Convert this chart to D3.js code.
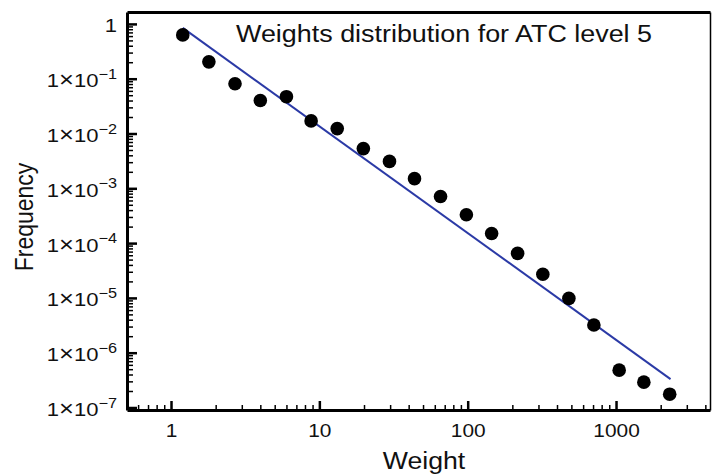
<!DOCTYPE html>
<meta charset="utf-8">
<style>
body { margin: 0; background: #fff; }
svg { display: block; }
text { font-family: "Liberation Sans", Arial, Helvetica, sans-serif; fill: #111; }
.axis path, .axis line { stroke: #000; fill: none; }
</style>
<body>
<script src="https://cdn.jsdelivr.net/npm/d3@7"></script>
<script>

var weights = [1.2, 1.8, 2.7, 4.0, 6.0, 8.8, 13.2, 19.8, 29.7, 43.8, 65.6, 98, 145, 217, 321, 481, 709, 1050, 1540, 2300];
var freqs = [0.63, 0.203, 0.081, 0.040, 0.047, 0.017, 0.0123, 0.0053, 0.0031, 0.0015, 0.00071, 0.00033, 0.00015,
             6.5e-5, 2.7e-5, 9.8e-6, 3.2e-6, 4.8e-7, 2.9e-7, 1.75e-7];

// fitted power-law line (end points)
var fitX = [1.2, 2330];
var fitY = [0.845, 3.3e-7];

var xTicks = [1, 10, 100, 1000];
var yTicks = [1e-7, 1e-6, 1e-5, 1e-4, 1e-3, 1e-2, 1e-1, 1];

var xDomain = [0.505, 4300];
var yDomain = [9e-8, 1.65];

var W = 712, H = 476;
var plot = {left: 127, right: 710, top: 12, bottom: 410};
var sx = 1.16; // glyphs in the picture are a bit wide

var svg = d3.select("body").append("svg")
  .attr("width", W)
  .attr("height", H);

var x = d3.scaleLog().domain(xDomain).range([plot.left, plot.right]);
var y = d3.scaleLog().domain(yDomain).range([plot.bottom, plot.top]);

function minors(lo, hi) {
  var out = [];
  for (var e = Math.floor(Math.log10(lo)); e <= Math.ceil(Math.log10(hi)); e++) {
    for (var k = 2; k <= 9; k++) {
      var v = k * Math.pow(10, e);
      if (v > lo && v < hi) out.push(v);
    }
  }
  return out;
}

// minor ticks
svg.append("g")
  .attr("class", "axis")
  .attr("transform", "translate(" + plot.left + ",0)")
  .call(d3.axisLeft(y).tickValues(minors(yDomain[0], yDomain[1])).tickSize(-6).tickFormat(""))
  .call(function(g) { g.select(".domain").remove(); g.selectAll("line").attr("stroke-width", 1.5); });

svg.append("g")
  .attr("class", "axis")
  .attr("transform", "translate(0," + plot.bottom + ")")
  .call(d3.axisBottom(x).tickValues(minors(xDomain[0], xDomain[1])).tickSize(-5).tickFormat(""))
  .call(function(g) { g.select(".domain").remove(); g.selectAll("line").attr("stroke-width", 1.5); });

// frame: top and right
svg.append("g")
  .attr("class", "axis")
  .attr("transform", "translate(0," + plot.top + ")")
  .call(d3.axisTop(x).tickValues([]).tickSizeOuter(0))
  .select(".domain").attr("stroke-width", 3);

svg.append("g")
  .attr("class", "axis")
  .attr("transform", "translate(" + plot.right + ",0)")
  .call(d3.axisRight(y).tickValues([]).tickSizeOuter(0))
  .select(".domain").attr("stroke", "#666").attr("stroke-width", 1.5);

// major y axis
var yAxis = svg.append("g")
  .attr("class", "axis")
  .attr("transform", "translate(" + plot.left + ",0)")
  .call(d3.axisLeft(y).tickValues(yTicks).tickSizeInner(-10).tickSizeOuter(0).tickPadding(10));

yAxis.select(".domain").attr("stroke-width", 3);
yAxis.selectAll("line").attr("stroke-width", 2.5);
yAxis.selectAll("text")
  .attr("x", 0)
  .attr("dy", "8px")
  .attr("font-size", 19)
  .attr("transform", "translate(-10,0) scale(" + sx + ",1)")
  .each(function(d) {
    var t = d3.select(this).text(null);
    var e = Math.round(Math.log10(d));
    if (e === 0) { t.text("1"); return; }
    t.append("tspan").text("1");
    t.append("tspan").attr("font-size", 22).text("\u00d7");
    t.append("tspan").text("10");
    t.append("tspan").attr("font-size", 14).attr("dy", "-8.5px").text("\u2212" + Math.abs(e));
  });

// major x axis
var xAxis = svg.append("g")
  .attr("class", "axis")
  .attr("transform", "translate(0," + plot.bottom + ")")
  .call(d3.axisBottom(x).tickValues(xTicks).tickSizeInner(-9).tickSizeOuter(0).tickPadding(14).tickFormat(d3.format("d")));

xAxis.select(".domain").attr("stroke-width", 3);
xAxis.selectAll("line").attr("stroke-width", 2.5);
xAxis.selectAll("text")
  .attr("font-size", 18)
  .attr("transform", "scale(" + sx + ",1)");

// fitted line
var line = d3.line()
  .x(function(d) { return x(d[0]); })
  .y(function(d) { return y(d[1]); });

svg.append("path")
  .datum(d3.zip(fitX, fitY))
  .attr("d", line)
  .attr("fill", "none")
  .attr("stroke", "#2b3aa6")
  .attr("stroke-width", 2);

// points
svg.selectAll("circle.pt")
  .data(d3.zip(weights, freqs))
  .enter().append("circle")
  .attr("class", "pt")
  .attr("cx", function(d) { return x(d[0]); })
  .attr("cy", function(d) { return y(d[1]); })
  .attr("r", 6.8)
  .attr("fill", "#000");

// texts
svg.append("text")
  .attr("transform", "translate(236,42) scale(1.17,1)")
  .attr("font-size", 23)
  .text("Weights distribution for ATC level 5");

svg.append("text")
  .attr("transform", "translate(424,469) scale(1.16,1)")
  .attr("text-anchor", "middle")
  .attr("font-size", 23)
  .text("Weight");

svg.append("text")
  .attr("transform", "translate(33,217) rotate(-90) scale(1,1.16)")
  .attr("text-anchor", "middle")
  .attr("font-size", 23)
  .text("Frequency");

</script>
</body>
